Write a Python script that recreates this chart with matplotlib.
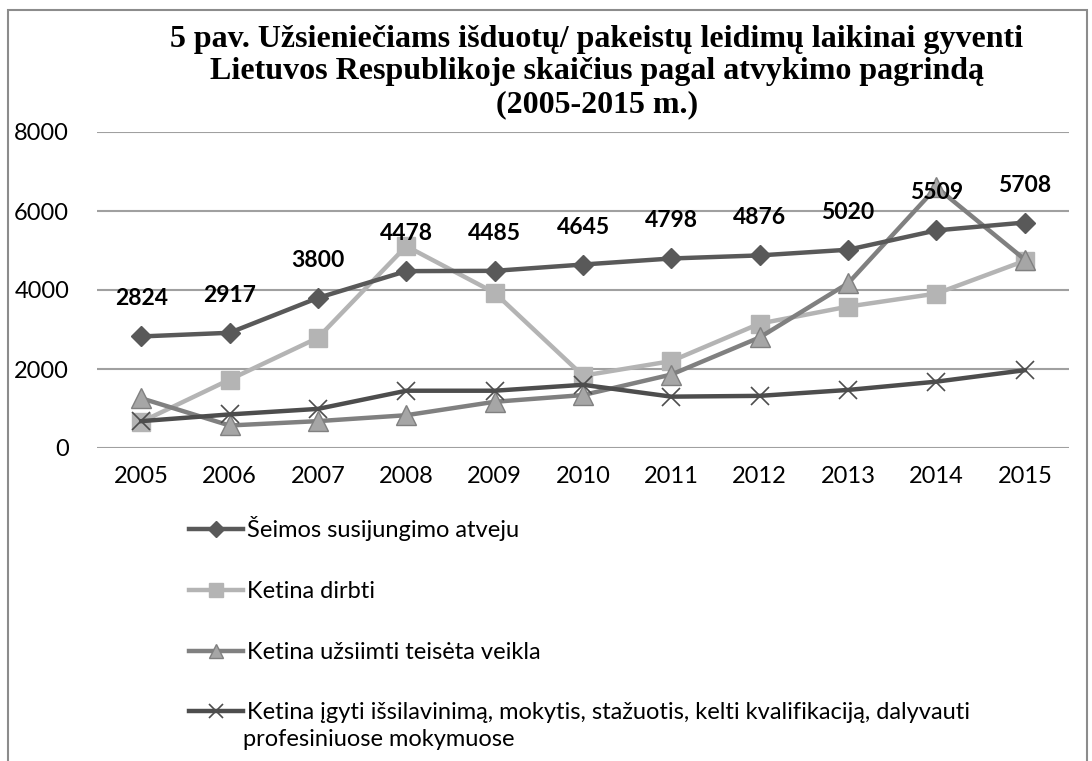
import matplotlib.pyplot as plt
from matplotlib.lines import Line2D
from matplotlib.patches import Rectangle

years = ['2005', '2006', '2007', '2008', '2009', '2010', '2011', '2012', '2013', '2014', '2015']
seimos = [2824, 2917, 3800, 4478, 4485, 4645, 4798, 4876, 5020, 5509, 5708]
dirbti = [660, 1730, 2790, 5110, 3930, 1830, 2200, 3150, 3580, 3910, 4740]
veikla = [1260, 570, 680, 830, 1170, 1340, 1860, 2800, 4170, 6600, 4770]
mokytis = [680, 850, 990, 1450, 1450, 1600, 1300, 1320, 1470, 1680, 1970]

labels = ['Šeimos susijungimo atveju', 'Ketina dirbti', 'Ketina užsiimti teisėta veikla',
          'Ketina įgyti išsilavinimą, mokytis, stažuotis, kelti kvalifikaciją, dalyvauti']
label_cont = 'profesiniuose mokymuose'

sans = ['Lato', 'DejaVu Sans']
plt.rcParams['font.family'] = sans

fig = plt.figure(figsize=(10.92, 7.61), dpi=100)
fig.patches.append(Rectangle((8 / 1092, -0.1), (1087 - 8) / 1092, 1.1 - 10 / 761,
                             transform=fig.transFigure, fill=False, edgecolor='#8c8c8c', lw=1.5))

ax = fig.add_axes([97 / 1092, 1 - 448 / 761, (1069 - 97) / 1092, (448 - 132) / 761])
x = range(len(years))

ax.plot(x, seimos, color='#595959', lw=3.2, marker='D', ms=10, mfc='#595959', mec='#595959', zorder=3)
ax.plot(x, dirbti, color='#b4b4b4', lw=3.2, marker='s', ms=13, mfc='#b4b4b4', mec='#b4b4b4', zorder=2)
ax.plot(x, veikla, color='#808080', lw=3.2, marker='^', ms=14, mfc='#a6a6a6', mec='#808080', zorder=2)
ax.plot(x, mokytis, color='#4d4d4d', lw=3.2, marker='x', ms=13, mew=1.2, mec='#4d4d4d', zorder=2)

for i, v in enumerate(seimos):
    ax.annotate(str(v), (i, v), xytext=(0, 27), textcoords='offset points',
                ha='center', va='center', fontsize=16.5, fontweight='bold', color='black')

ax.set_xlim(-0.5, len(years) - 0.5)
ax.set_ylim(0, 8000)
ax.set_yticks([0, 2000, 4000, 6000, 8000])
ax.set_xticks(list(x))
ax.set_xticklabels(years)
ax.tick_params(length=0, labelsize=17)
ax.tick_params(axis='x', pad=13)
ax.tick_params(axis='y', pad=20)
ax.grid(axis='y', color='#a0a0a0', lw=1.5)
ax.set_axisbelow(True)
for s in ax.spines.values():
    s.set_visible(False)

fig.text(597 / 1092, 1 - 72 / 761,
         '5 pav. Užsieniečiams išduotų/ pakeistų leidimų laikinai gyventi\n'
         'Lietuvos Respublikoje skaičius pagal atvykimo pagrindą\n(2005-2015 m.)',
         ha='center', va='center', fontsize=23, fontweight='bold',
         family='Liberation Serif', linespacing=1.15)

handles = [
    Line2D([], [], color='#595959', lw=3.2, marker='D', ms=8, mfc='#595959', mec='#595959'),
    Line2D([], [], color='#b4b4b4', lw=3.2, marker='s', ms=10, mfc='#b4b4b4', mec='#b4b4b4'),
    Line2D([], [], color='#808080', lw=3.2, marker='^', ms=10, mfc='#a6a6a6', mec='#808080'),
    Line2D([], [], color='#4d4d4d', lw=3.2, marker='x', ms=10, mew=1.2, mec='#4d4d4d'),
]
leg = fig.legend(handles, labels, loc='upper left', bbox_to_anchor=(180 / 1092, 1 - 507 / 761),
                 frameon=False, fontsize=17, labelspacing=1.68, handlelength=2.25,
                 handletextpad=0.2, borderaxespad=0)
fig.text(243 / 1092, 1 - 740 / 761, label_cont, ha='left', va='center', fontsize=17)

fig.savefig('out.png', dpi=100)
